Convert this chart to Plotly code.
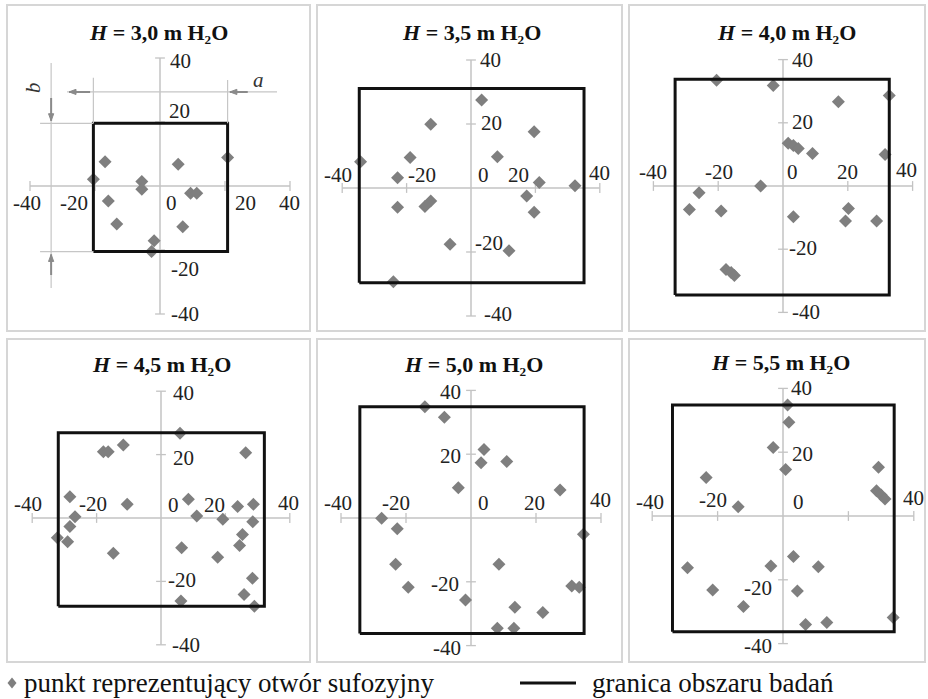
import plotly.graph_objects as go

# ---------------- DATA ----------------
PRESSURES = ["3,0", "3,5", "4,0", "4,5", "5,0", "5,5"]

P30_X = [-16.9, -20.5, -5.6, -5.6, -15.9, -13.3, 5.6, 20.8, 9.4, 11.3, 7.0, -1.8, -2.6]
P30_Y = [7.6, 2.1, 1.4, -1.0, -4.7, -11.9, 6.8, 8.9, -2.3, -2.3, -12.7, -17.1, -20.5]

P35_X = [3.3, -12.5, 19.6, -18.9, 8.2, -34.3, -22.8, 21.2, 32.3, 17.3, -22.8, -12.5, -14.3, 19.6, -6.5, 11.8, -24.1]
P35_Y = [27.5, 19.9, 17.6, 9.5, 9.8, 8.2, 3.2, 1.7, 0.7, -2.5, -6.0, -4.1, -5.8, -7.6, -17.6, -19.6, -29.3]

P40_X = [-20.5, -3.0, 17.1, 32.8, 1.6, 3.2, 4.7, 9.1, 31.5, -6.9, -25.9, -28.9, -19.1, 20.2, 19.3, 3.2, 28.9, -17.6, -16.0, -15.0]
P40_Y = [33.5, 31.8, 26.7, 28.6, 13.5, 12.8, 11.9, 10.3, 10.0, 0.0, -2.1, -7.4, -7.9, -7.1, -11.1, -9.7, -11.1, -26.4, -27.4, -28.3]

P45_X = [5.9, -11.7, -17.9, -16.4, 26.3, -28.3, -10.5, 8.5, 23.8, 28.7, 11.1, 19.2, -26.7, -28.3, 28.5, -32.2, -29.0, 25.3, 24.4, 6.4, -14.8, 17.6, 28.4, 25.8, 29.0, 6.2]
P45_Y = [26.7, 23.0, 20.9, 20.9, 20.6, 6.7, 4.3, 5.9, 3.6, 4.3, 0.6, -0.4, 0.4, -2.7, -1.2, -6.2, -7.5, -5.2, -8.7, -9.4, -11.1, -12.4, -19.0, -24.1, -27.8, -26.2]

P50_X = [-14.2, -8.2, 4.0, 3.1, 11.0, -3.9, 27.4, -27.5, -22.7, 34.6, -23.2, 8.6, -19.3, 31.0, 33.3, -1.7, 13.5, 22.1, 8.1, 13.2]
P50_Y = [34.9, 31.6, 21.5, 17.3, 17.7, 9.5, 8.8, -0.1, -3.4, -5.1, -14.5, -14.5, -21.7, -21.3, -21.7, -25.7, -28.0, -29.6, -34.6, -34.6]

P55_X = [1.4, 1.8, -3.0, 0.8, 29.2, -23.5, 28.6, 30.0, 31.2, -13.7, 3.2, -3.7, 10.8, -29.2, -21.5, 4.4, -12.1, 6.9, 13.4, 33.7]
P55_Y = [34.8, 29.4, 21.5, 14.6, 15.3, 12.1, 7.9, 6.6, 5.3, 2.9, -12.7, -15.7, -15.9, -16.2, -23.2, -23.5, -28.4, -34.0, -33.4, -31.8]

POINTS_X = [P30_X, P35_X, P40_X, P45_X, P50_X, P55_X]
POINTS_Y = [P30_Y, P35_Y, P40_Y, P45_Y, P50_Y, P55_Y]

# study-area boundary (granica obszaru badań), metres
RECT_LEFT = [-20.5, -34.7, -33.3, -31.9, -34.2, -33.8]
RECT_RIGHT = [20.8, 35.1, 32.8, 32.1, 34.8, 34.0]
RECT_BOTTOM = [-20.5, -29.6, -34.5, -27.8, -36.2, -36.3]
RECT_TOP = [19.6, 31.1, 33.8, 26.9, 34.9, 34.8]

TICKS = [-40, -20, 0, 20, 40]
TICK_LABELS = ["-40", "-20", "0", "20", "40"]

LEGEND_POINT = "punkt reprezentujący otwór sufozyjny"
LEGEND_LINE = "granica obszaru badań"

# ---------------- LAYOUT / STYLE ----------------
W, H = 928, 699
R = 44
SERIF = "Times New Roman, Liberation Serif, DejaVu Serif, serif"
AXIS_COLOR = "#c3c3c3"
POINT_COLOR = "#7f7f7f"

# origin pixel position and pixel-per-unit scale of each panel
GEOM = [
    (160, 186, 3.25, 3.20),
    (471, 188, 3.22, 3.20),
    (783, 186, 3.24, 3.16),
    (161, 518, 3.22, 3.17),
    (471, 518, 3.25, 3.19),
    (783, 516, 3.27, 3.19),
]
BORDERS = [(7, 5, 310, 331), (317, 5, 622, 331), (629, 5, 925, 331),
           (7, 339, 310, 662), (317, 339, 622, 662), (629, 339, 925, 662)]
TITLE_POS = [(158, 32), (471, 32), (786, 32), (161, 364), (473, 364), (780, 363)]

# label offsets (dx, dy) in px from tick position (dy positive = down)
XLAB_OFF = [
    [(-3, 17), (-21, 17), (11, 17), (20, 17), (-1, 17)],
    [(-4, -13), (15, -13), (12, -13), (-17, -13), (0, -15)],
    [(0, -14), (1, -14), (9, -14), (0, -14), (-6, -16)],
    [(-4, -14), (-4, -14), (12, -13), (-11, -13), (-1, -15)],
    [(-3, -15), (-10, -15), (12, -15), (-2, -15), (-1, -18)],
    [(-2, -14), (-5, -16), (15, -14), None, (0, -18)],
]
# y labels for ticks -40, -20, 20, 40
YLAB_OFF = [
    {-40: (25, 0), -20: (25, 19), 20: (19, -11), 40: (20, 3)},
    {-40: (27, -2), -20: (18, -9), 20: (20, -1), 40: (19, 0)},
    {-40: (23, 0), -20: (20, -1), 20: (19, -1), 40: (19, 0)},
    {-40: (25, 0), -20: (21, -1), 20: (22, 3), 40: (22, 2)},
    {-40: (-24, 2), -20: (-26, 2), 20: (-21, 2), 40: (-21, 2)},
    {-40: (-25, 2), -20: (-25, 8), 20: (19, 2), 40: (18, 0)},
]

fig = go.Figure()
shapes = []
annotations = []
tmin, tmax = min(TICKS), max(TICKS)
nz_ticks = [t for t in TICKS if t != 0]

for i in range(6):
    n = i + 1
    xs = "x" if n == 1 else f"x{n}"
    ys = "y" if n == 1 else f"y{n}"
    cx, cy, sx, sy = GEOM[i]
    fig.update_layout(**{
        ("xaxis" if n == 1 else f"xaxis{n}"): dict(
            domain=[(cx - R * sx) / W, (cx + R * sx) / W], range=[-R, R],
            visible=False, showgrid=False, zeroline=False, anchor=ys, fixedrange=True),
        ("yaxis" if n == 1 else f"yaxis{n}"): dict(
            domain=[1 - (cy + R * sy) / H, 1 - (cy - R * sy) / H], range=[-R, R],
            visible=False, showgrid=False, zeroline=False, anchor=xs, fixedrange=True),
    })
    # axis lines
    fig.add_trace(go.Scatter(x=[tmin, tmax], y=[0, 0], mode="lines", xaxis=xs, yaxis=ys,
                             line=dict(color=AXIS_COLOR, width=1.5), hoverinfo="skip"))
    fig.add_trace(go.Scatter(x=[0, 0], y=[tmin, tmax], mode="lines", xaxis=xs, yaxis=ys,
                             line=dict(color=AXIS_COLOR, width=1.5), hoverinfo="skip"))
    # tick marks
    fig.add_trace(go.Scatter(x=nz_ticks, y=[0] * len(nz_ticks), mode="markers", xaxis=xs, yaxis=ys,
                             marker=dict(symbol="line-ns", size=7, line=dict(color=AXIS_COLOR, width=1.3)),
                             hoverinfo="skip", cliponaxis=False))
    fig.add_trace(go.Scatter(x=[0] * len(nz_ticks), y=nz_ticks, mode="markers", xaxis=xs, yaxis=ys,
                             marker=dict(symbol="line-ew", size=7, line=dict(color=AXIS_COLOR, width=1.3)),
                             hoverinfo="skip", cliponaxis=False))
    # points
    fig.add_trace(go.Scatter(x=POINTS_X[i], y=POINTS_Y[i], mode="markers", xaxis=xs, yaxis=ys,
                             marker=dict(symbol="diamond", size=10, color=POINT_COLOR),
                             name=LEGEND_POINT, cliponaxis=False))
    # boundary rectangle
    l, r, b, t = RECT_LEFT[i], RECT_RIGHT[i], RECT_BOTTOM[i], RECT_TOP[i]
    fig.add_trace(go.Scatter(x=[l, r, r, l, l], y=[b, b, t, t, b], mode="lines", xaxis=xs, yaxis=ys,
                             line=dict(color="#111111", width=3), name=LEGEND_LINE, cliponaxis=False))

    # tick labels
    for k, tv in enumerate(TICKS):
        off = XLAB_OFF[i][k]
        if off is None:
            continue
        annotations.append(dict(x=tv, y=0, xref=xs, yref=ys, text=TICK_LABELS[k], showarrow=False,
                                xshift=off[0], yshift=-off[1],
                                font=dict(family=SERIF, size=21, color="#222222")))
    for k, tv in enumerate(TICKS):
        if tv == 0:
            continue
        off = YLAB_OFF[i][tv]
        annotations.append(dict(x=0, y=tv, xref=xs, yref=ys, text=TICK_LABELS[k], showarrow=False,
                                xshift=off[0], yshift=-off[1],
                                font=dict(family=SERIF, size=21, color="#222222")))
    # title
    tx, ty = TITLE_POS[i]
    annotations.append(dict(x=tx / W, y=1 - ty / H, xref="paper", yref="paper",
                            text=f"<b><i>H</i> = {PRESSURES[i]} m H₂O</b>",
                            showarrow=False, xanchor="center", yanchor="middle",
                            font=dict(family=SERIF, size=22, color="#111111")))
    # panel border
    bx0, by0, bx1, by1 = BORDERS[i]
    shapes.append(dict(type="rect", xref="paper", yref="paper",
                       x0=bx0 / W, x1=bx1 / W, y0=1 - by1 / H, y1=1 - by0 / H,
                       line=dict(color="#d6d6d6", width=2), layer="below"))

# ---- dimension marks (a, b) in first panel ----
DIM = "#c6c6c6"
ARR = "#8a8a8a"
l, r, b, t = RECT_LEFT[0], RECT_RIGHT[0], RECT_BOTTOM[0], RECT_TOP[0]
dim_lines = [
    (-33.5, 38.4, -33.5, -31.9),   # vertical dimension line (b)
    (-36.9, t, l, t),              # top extension
    (-36.9, b, l, b),              # bottom extension
    (-28.6, 29.4, 36.0, 29.4),     # horizontal dimension line (a)
    (l, 33.8, l, t),               # left extension
    (r, 33.1, r, t),               # right extension
]
for x0, y0, x1, y1 in dim_lines:
    shapes.append(dict(type="line", xref="x", yref="y", x0=x0, y0=y0, x1=x1, y1=y1,
                       line=dict(color=DIM, width=1.2)))
sx1, sy1 = GEOM[0][2], GEOM[0][3]
def head(xt, yt, d, length=7, half=2.6):
    L, Hh = length, half
    if d == "down":
        pts = [(xt, yt), (xt - Hh / sx1, yt + L / sy1), (xt + Hh / sx1, yt + L / sy1)]
    elif d == "up":
        pts = [(xt, yt), (xt - Hh / sx1, yt - L / sy1), (xt + Hh / sx1, yt - L / sy1)]
    else:  # left
        pts = [(xt, yt), (xt + L / sx1, yt + Hh / sy1), (xt + L / sx1, yt - Hh / sy1)]
    p = "M " + " L ".join(f"{px},{py}" for px, py in pts) + " Z"
    return dict(type="path", xref="x", yref="y", path=p, fillcolor=ARR, line=dict(color=ARR, width=1))
arrow_shafts = [
    (-33.5, t + 0.8, -33.5, 27.5),
    (-33.5, b - 0.9, -33.5, -27.8),
    (-28.0, 29.4, -21.5, 29.4),
    (r + 0.7, 29.4, 27.0, 29.4),
]
for x0, y0, x1, y1 in arrow_shafts:
    shapes.append(dict(type="line", xref="x", yref="y", x0=x0, y0=y0, x1=x1, y1=y1,
                       line=dict(color=ARR, width=2)))
shapes.append(head(-33.5, t + 0.8, "down"))
shapes.append(head(-33.5, b - 0.9, "up"))
shapes.append(head(-28.0, 29.4, "left"))
shapes.append(head(r + 0.7, 29.4, "left"))

annotations.append(dict(x=30.2, y=33.1, xref="x", yref="y", text="<i>a</i>", showarrow=False,
                        font=dict(family=SERIF, size=21, color="#333333")))
annotations.append(dict(x=-39.1, y=30.9, xref="x", yref="y", text="<i>b</i>", showarrow=False,
                        textangle=-90, font=dict(family=SERIF, size=21, color="#333333")))

# ---- legend (bottom) ----
LY = 683
dx, dy = 4.5, 5.5
lx = 12
shapes.append(dict(type="path", xref="paper", yref="paper",
                   path=(f"M {(lx - dx) / W},{1 - LY / H} L {lx / W},{1 - (LY - dy) / H} "
                         f"L {(lx + dx) / W},{1 - LY / H} L {lx / W},{1 - (LY + dy) / H} Z"),
                   fillcolor=POINT_COLOR, line=dict(width=0)))
annotations.append(dict(x=22 / W, y=1 - LY / H, xref="paper", yref="paper", text=LEGEND_POINT,
                        showarrow=False, xanchor="left", yanchor="middle",
                        font=dict(family=SERIF, size=27, color="#111111")))
shapes.append(dict(type="line", xref="paper", yref="paper", x0=520 / W, x1=576 / W,
                   y0=1 - LY / H, y1=1 - LY / H, line=dict(color="#111111", width=3)))
annotations.append(dict(x=590 / W, y=1 - LY / H, xref="paper", yref="paper", text=LEGEND_LINE,
                        showarrow=False, xanchor="left", yanchor="middle",
                        font=dict(family=SERIF, size=27, color="#111111")))

fig.update_layout(width=W, height=H, margin=dict(l=0, r=0, t=0, b=0),
                  paper_bgcolor="white", plot_bgcolor="white", showlegend=False,
                  shapes=shapes, annotations=annotations)

fig.write_html("out.html")
